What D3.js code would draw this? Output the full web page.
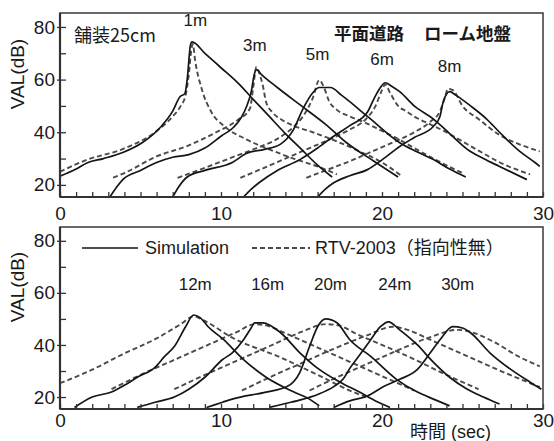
<!DOCTYPE html>
<html>
<head>
<meta charset="utf-8">
<script src="https://cdn.jsdelivr.net/npm/d3@7"></script>
<style>
  body { margin: 0; background: #fff; }
  svg { display: block; }
  text { font-family: "Liberation Sans", Arial, "Noto Sans CJK JP", sans-serif; fill: #1a1a1a; }
  .jp { font-family: "Noto Sans CJK JP", sans-serif; }
</style>
</head>
<body>
<svg id="chart" width="554" height="441"></svg>
<script>
// ##### Data (time in sec, VAL in dB)

// Upper panel : distances 1m .. 8m
var topLabels = ['1m', '3m', '5m', '6m', '8m'];
var topLabelPos = [[8.4, 80.5], [12.1, 71], [16.0, 67.5], [20.0, 65.5], [24.2, 63]];

var topSim = [
  [[0,23.3],[1,26],[1.7,28.4],[2.7,30],[3.9,32.3],[5.1,36],[6.3,42.3],[7,48],[7.45,53.5],[7.75,54.6],[7.9,60],[8.1,73],[8.2,74.3],[9,70],[10,64.5],[11,59],[12,52.5],[13,46],[14,39.5],[15,33.5],[16,27.5],[16.9,23]],
  [[3.1,15.4],[3.5,19],[3.9,22],[5,25.5],[6,28.5],[7,30.5],[8,31.5],[9,34],[10,38.5],[10.8,42],[11.3,46],[11.6,50],[11.9,56],[12.05,61.5],[12.2,63.8],[12.5,62],[13.5,57],[15,50],[16.5,43],[17.8,36],[19.5,29],[21,23]],
  [[7,15.4],[7.4,19.5],[7.9,23],[9,25.5],[10.7,28.5],[11.6,32],[12.7,33.5],[13.7,35.5],[14.5,41],[15.1,49],[15.7,55],[16.1,57],[16.8,57],[17.5,54],[19.1,46],[21.1,36],[22.2,32.5],[23.2,29.6],[24.2,26],[25.2,23]],
  [[11.4,15.4],[11.9,18.5],[12.4,21],[13.5,25.5],[14.9,29.6],[16,34],[17,38.5],[18,42.5],[19.1,47.7],[19.5,52.7],[19.9,57],[20.2,58.8],[20.6,57.5],[21.1,55.4],[22,50],[23.2,45],[24.2,39.5],[25.3,33.5],[26.3,30],[27.3,27],[29,22]],
  [[16,15.4],[16.5,18.5],[17,20.8],[18,23.5],[19.1,25.8],[20,29.5],[21.1,34.6],[22,38],[23.2,42.3],[23.6,46],[23.8,51.5],[24.2,55.4],[24.6,54],[25.5,50],[26.5,45],[27.3,40],[28.5,33],[29.5,28.5],[29.8,27]]
];

var topRtv = [
  [[0,25],[1.7,29.6],[3.85,33.5],[5.9,40],[7,46],[7.5,50],[7.8,54],[8,62],[8.15,71],[8.25,73.5],[8.4,67],[8.8,56.5],[9.4,47.7],[10.2,42.3],[11.5,37.5],[13,33.5],[14.5,30],[16,27],[17.2,24]],
  [[3.3,22.7],[4,24.5],[6,30.8],[8,35],[9.7,40],[11,44.5],[11.8,49],[12,57],[12.2,64.8],[12.4,62],[12.6,57.7],[12.8,51.5],[13.2,47.5],[13.7,45],[14.5,42.5],[15.7,40],[17,37],[18.5,33],[20,28.5],[21.2,23.5]],
  [[7.3,22.7],[9,26.5],[10.5,30],[12,33.5],[13.5,37.5],[14.5,42],[15.2,47],[15.7,53],[16.1,59.8],[16.4,57],[16.7,52],[17.2,48.5],[18,46],[19,43.5],[20,40.5],[21,37.5],[22,34],[23.5,29],[25,24.5]],
  [[11.2,22.7],[12.5,26],[14,30],[15.5,34],[17,38],[18,41],[19,45],[19.6,50],[20,56],[20.2,58.2],[20.5,55],[21,50],[21.5,48],[22,46],[23,43],[24,40],[25,36.5],[26,33],[27.5,28],[29.2,24]],
  [[15.3,22.7],[16.5,25.5],[18,29],[19.5,33],[21,37],[22,40],[23,44],[23.6,48],[23.9,53],[24.1,56.5],[24.4,56],[25,50],[26,45],[27.3,39],[28.5,35.5],[29.8,32.7]]
];

// Lower panel : distances 12m .. 30m
var bottomLabels = ['12m', '16m', '20m', '24m', '30m'];
var bottomLabelPos = [[8.4, 61], [12.9, 61], [16.8, 61], [20.8, 61], [24.7, 61]];

var bottomSim = [
  [[0.9,16],[2,20],[3.2,21.9],[4,24.5],[4.8,27.6],[5.9,31.4],[6.5,35.6],[7.1,39.4],[7.8,47],[8.3,51.5],[8.7,50.5],[9.2,47],[10.1,42.4],[11.4,34.4],[12.8,27.6],[14.5,22],[15.5,19.2],[16.1,16.6]],
  [[4.8,16],[5.9,18],[7.1,20],[8,23],[9,27.6],[10.1,34.4],[10.7,37],[11.4,42],[11.8,45.8],[12.1,48.5],[12.6,48.5],[13.7,44.7],[14.9,37],[16.1,30.6],[17.4,25.7],[18.6,21.9],[19.6,18.5],[20.5,16]],
  [[9.1,16],[10.1,18],[10.7,19.2],[12.8,21.9],[14.1,24],[14.9,29.5],[15.5,39.4],[16,47],[16.5,50],[17.2,48.5],[18,42],[19.3,35.6],[20.9,26.8],[22.2,21.9],[23.2,19.2],[24.2,16.6]],
  [[13,16],[14,17.5],[15,19],[16,21],[17,24],[17.6,27],[18,31],[18.6,36],[19.3,42],[19.9,47],[20.4,48.9],[21.1,45.8],[22.2,40],[23.2,33.3],[24.2,27.6],[25.3,23],[26.3,20],[27.3,17.3]],
  [[17,16],[18,18.5],[19.1,20.4],[20.1,24],[21.1,26.8],[22.2,30.6],[23,37],[23.6,42],[24.4,47],[25,46.5],[25.5,44.7],[26.7,37],[28,30.6],[29.2,25.7],[29.9,23]]
];

var bottomRtv = [
  [[0,25.3],[2,30.5],[3.85,36.3],[6,42.5],[7.5,48],[8.3,51],[8.9,49.5],[10.7,42.8],[13.7,35.2],[16,28.5],[18,22.5],[19,20]],
  [[3.2,23],[5,28.5],[7,34],[9,39.5],[11,45],[12.1,48],[12.8,47.5],[14,44.5],[16,39],[18,33.5],[20,28],[22,22.5]],
  [[7.1,23],[9,28.5],[11,34],[13,39.5],[15,45],[16.5,48],[17.3,47.5],[18.5,44],[20,40],[22,34.5],[24,28.5],[26,23]],
  [[11.3,22.5],[13,27.5],[15,33],[17,38.5],[19,43.5],[20.7,47],[21.5,46],[23,42],[25,36.5],[27,31],[29.8,23.8]],
  [[15.5,22.5],[17,27],[19,32.5],[21,38],[23,43],[24.7,45.8],[25.5,45],[27,41],[28.5,35.5],[29.8,31.8]]
];

var xTickLabels = [0, 10, 20, 30];
var yTickLabels = [20, 40, 60, 80];


// ##### Shared drawing helpers
var svg = d3.select('#chart');
var left = 60, right = 543;

var x = d3.scaleLinear().domain([0, 30]).range([left, right]);

// Draws one panel (frame, ticks, curves) between the given pixel rows
function drawPanel(id, top, bottom, sims, rtvs, labels, labelPos, xPad) {
  var y = d3.scaleLinear().domain([15.4, 85.3]).range([bottom, top]);
  var g = svg.append('g');

  // clip so curves stay inside the frame
  svg.append('clipPath').attr('id', 'clip-' + id)
    .append('rect').attr('x', left).attr('y', top)
    .attr('width', right - left).attr('height', bottom - top);

  var line = d3.line()
    .x(function(d) { return x(d[0]); })
    .y(function(d) { return y(d[1]); })
    .curve(d3.curveMonotoneX);

  var curves = g.append('g').attr('clip-path', 'url(#clip-' + id + ')');

  curves.selectAll('path.rtv').data(rtvs).enter().append('path')
    .attr('class', 'rtv')
    .attr('d', line)
    .attr('fill', 'none')
    .attr('stroke', '#4a4a4a')
    .attr('stroke-width', 1.9)
    .attr('stroke-dasharray', '5,3');

  curves.selectAll('path.sim').data(sims).enter().append('path')
    .attr('class', 'sim')
    .attr('d', line)
    .attr('fill', 'none')
    .attr('stroke', '#151515')
    .attr('stroke-width', 1.7);

  // x axis: inward ticks every second, labels every 10
  var xAxis = d3.axisBottom(x)
    .tickValues(d3.range(0, 31, 1))
    .tickSize(-5)
    .tickPadding(xPad)
    .tickFormat(function(d) { return xTickLabels.indexOf(d) >= 0 ? d : ''; });
  var gx = g.append('g').attr('transform', 'translate(0,' + bottom + ')').call(xAxis);
  gx.select('.domain').remove();
  gx.selectAll('line').attr('stroke', '#333').attr('stroke-width', 1.3);
  gx.selectAll('text').style('font-size', '19px').attr('fill', '#1a1a1a');

  // y axis: inward ticks every 10 dB, labels every 20
  var yAxis = d3.axisLeft(y)
    .tickValues(d3.range(20, 81, 10))
    .tickSize(-6)
    .tickPadding(5)
    .tickFormat(function(d) { return yTickLabels.indexOf(d) >= 0 ? d : ''; });
  var gy = g.append('g').attr('transform', 'translate(' + left + ',0)').call(yAxis);
  gy.select('.domain').remove();
  gy.selectAll('line').attr('stroke', '#333').attr('stroke-width', 1.3)
    .attr('x1', function(d) { return yTickLabels.indexOf(d) >= 0 ? -3 : 0; });
  gy.selectAll('text').style('font-size', '19px').attr('fill', '#1a1a1a');

  // frame
  g.append('rect')
    .attr('x', left).attr('y', top)
    .attr('width', right - left).attr('height', bottom - top)
    .attr('fill', 'none').attr('stroke', '#444').attr('stroke-width', 1.6);
  g.append('line').attr('x1', left).attr('x2', left).attr('y1', top).attr('y2', bottom)
    .attr('stroke', '#333').attr('stroke-width', 2.2);
  g.append('line').attr('x1', left).attr('x2', right).attr('y1', bottom).attr('y2', bottom)
    .attr('stroke', '#333').attr('stroke-width', 2.2);

  // distance labels
  g.selectAll('text.dist').data(labels).enter().append('text')
    .attr('class', 'dist')
    .attr('x', function(d, i) { return x(labelPos[i][0]); })
    .attr('y', function(d, i) { return y(labelPos[i][1]); })
    .attr('text-anchor', 'middle')
    .style('font-size', '17px')
    .text(function(d) { return d; });

  // y title
  g.append('text')
    .attr('transform', 'translate(24,' + ((top + bottom) / 2 - 31) + ') rotate(-90)')
    .attr('text-anchor', 'middle')
    .style('font-size', '19px')
    .text('VAL(dB)');

  return y;
}

var yTop = drawPanel('top', 13, 197, topSim, topRtv, topLabels, topLabelPos, 10);
var yBottom = drawPanel('bottom', 227, 409, bottomSim, bottomRtv, bottomLabels, bottomLabelPos, 5);


// ##### Annotations
svg.append('text').attr('class', 'jp')
  .attr('x', 74).attr('y', 42).style('font-size', '18px')
  .text('舗装25cm');

svg.append('text').attr('class', 'jp')
  .attr('x', 334).attr('y', 40).style('font-size', '17.5px').style('font-weight', 'bold')
  .text('平面道路');
svg.append('text').attr('class', 'jp')
  .attr('x', 424).attr('y', 40).style('font-size', '17.5px').style('font-weight', 'bold')
  .text('ローム地盤');

// legend in the lower panel
svg.append('line').attr('x1', 82).attr('x2', 138).attr('y1', 248).attr('y2', 248)
  .attr('stroke', '#151515').attr('stroke-width', 1.7);
svg.append('text').attr('x', 145).attr('y', 254).style('font-size', '18px').text('Simulation');
svg.append('line').attr('x1', 252).attr('x2', 310).attr('y1', 248).attr('y2', 248)
  .attr('stroke', '#4a4a4a').attr('stroke-width', 1.9).attr('stroke-dasharray', '5,3');
svg.append('text').attr('x', 315).attr('y', 254).style('font-size', '18px')
  .text('RTV-2003（指向性無）');

// x title
svg.append('text').attr('x', 410).attr('y', 438).style('font-size', '18px')
  .text('時間 (sec)');
</script>
</body>
</html>
